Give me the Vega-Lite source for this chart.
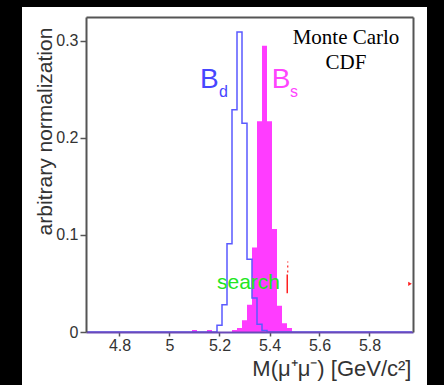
{
  "$schema": "https://vega.github.io/schema/vega-lite/v6.json",
  "width": 327,
  "height": 315,
  "autosize": "none",
  "padding": {"left": 86, "top": 17, "right": 31, "bottom": 53},
  "background": "black",
  "config": {"font": "Liberation Sans", "view": {"stroke": null}},
  "datasets": {
    "hist": [
      {"sample": "Bd", "mass": 4.67, "frac": 0},
      {"sample": "Bd", "mass": 5.16, "frac": 0},
      {"sample": "Bd", "mass": 5.18, "frac": 0},
      {"sample": "Bd", "mass": 5.20, "frac": 0.007},
      {"sample": "Bd", "mass": 5.22, "frac": 0.028},
      {"sample": "Bd", "mass": 5.24, "frac": 0.091},
      {"sample": "Bd", "mass": 5.26, "frac": 0.229},
      {"sample": "Bd", "mass": 5.28, "frac": 0.309},
      {"sample": "Bd", "mass": 5.30, "frac": 0.215},
      {"sample": "Bd", "mass": 5.32, "frac": 0.075},
      {"sample": "Bd", "mass": 5.34, "frac": 0.035},
      {"sample": "Bd", "mass": 5.36, "frac": 0.008},
      {"sample": "Bd", "mass": 5.38, "frac": 0.0015},
      {"sample": "Bd", "mass": 5.40, "frac": 0},
      {"sample": "Bd", "mass": 5.97, "frac": 0},
      {"sample": "Bs", "mass": 4.67, "frac": 0},
      {"sample": "Bs", "mass": 5.08, "frac": 0},
      {"sample": "Bs", "mass": 5.10, "frac": 0.002},
      {"sample": "Bs", "mass": 5.12, "frac": 0},
      {"sample": "Bs", "mass": 5.14, "frac": 0},
      {"sample": "Bs", "mass": 5.16, "frac": 0.002},
      {"sample": "Bs", "mass": 5.18, "frac": 0},
      {"sample": "Bs", "mass": 5.24, "frac": 0},
      {"sample": "Bs", "mass": 5.26, "frac": 0.002},
      {"sample": "Bs", "mass": 5.28, "frac": 0.004},
      {"sample": "Bs", "mass": 5.30, "frac": 0.012},
      {"sample": "Bs", "mass": 5.32, "frac": 0.028},
      {"sample": "Bs", "mass": 5.34, "frac": 0.087},
      {"sample": "Bs", "mass": 5.36, "frac": 0.217},
      {"sample": "Bs", "mass": 5.38, "frac": 0.295},
      {"sample": "Bs", "mass": 5.40, "frac": 0.217},
      {"sample": "Bs", "mass": 5.42, "frac": 0.106},
      {"sample": "Bs", "mass": 5.44, "frac": 0.027},
      {"sample": "Bs", "mass": 5.46, "frac": 0.009},
      {"sample": "Bs", "mass": 5.48, "frac": 0.004},
      {"sample": "Bs", "mass": 5.50, "frac": 0},
      {"sample": "Bs", "mass": 5.97, "frac": 0}
    ],
    "one": [{}]
  },
  "data": {"name": "one"},
  "resolve": {"axis": {"x": "independent", "y": "independent"}},
  "layer": [
    {
      "mark": {"type": "rect", "fill": "white", "strokeWidth": 0, "clip": false},
      "encoding": {
        "x": {"datum": 4.41, "type": "quantitative",
          "scale": {"domain": [4.666, 5.974], "nice": false, "zero": false},
          "axis": {"orient": "bottom", "values": [4.8, 5, 5.2, 5.4, 5.6, 5.8], "format": "~g",
            "grid": false, "zindex": 1, "domainColor": "#6a4ab8", "domainWidth": 2,
            "tickColor": "#555", "tickWidth": 1.5, "tickSize": 4, "labelPadding": 1,
            "labelFontSize": 16, "labelColor": "#333", "labelFlush": false,
            "title": "M(μ⁺μ⁻)   [GeV/c²]", "titleFontSize": 22, "titleFontWeight": "normal",
            "titleColor": "#333", "titleAlign": "right", "titleBaseline": "alphabetic",
            "titleAnchor": null, "titleX": 325, "titleY": 43}},
        "x2": {"datum": 6.03},
        "y": {"datum": 0.3348, "type": "quantitative",
          "scale": {"domain": [0, 0.3245], "nice": false, "zero": false},
          "axis": {"orient": "left", "values": [0, 0.1, 0.2, 0.3], "format": "~g",
            "grid": false, "zindex": 1, "domainColor": "#555", "domainWidth": 2,
            "tickColor": "#555", "tickWidth": 1.5, "tickSize": 6, "labelPadding": 2,
            "labelFontSize": 16, "labelColor": "#333", "labelFlush": false,
            "title": "arbitrary normalization", "titleFontSize": 21, "titleFontWeight": "normal",
            "titleColor": "#333", "titleAngle": -90, "titleAlign": "center",
            "titleBaseline": "alphabetic", "titleAnchor": null, "titleX": -35, "titleY": 114}},
        "y2": {"datum": -0.0546}
      }
    },
    {
      "data": {"name": "hist"},
      "transform": [{"filter": "datum.sample == 'Bs'"}],
      "mark": {"type": "area", "interpolate": "step", "fill": "#ff3cff", "opacity": 1},
      "encoding": {
        "x": {"field": "mass", "type": "quantitative",
          "axis": {"orient": "top", "labels": false, "ticks": false, "grid": false, "title": null,
            "domainColor": "#555", "domainWidth": 2, "zindex": 1}},
        "y": {"field": "frac", "type": "quantitative",
          "axis": {"orient": "right", "labels": false, "ticks": false, "grid": false, "title": null,
            "domainColor": "#555", "domainWidth": 2, "zindex": 1}}
      }
    },
    {
      "data": {"name": "hist"},
      "transform": [{"filter": "datum.sample == 'Bd'"}],
      "mark": {"type": "line", "interpolate": "step", "stroke": "#5a5aff", "strokeWidth": 1.5},
      "encoding": {
        "x": {"field": "mass", "type": "quantitative", "axis": null},
        "y": {"field": "frac", "type": "quantitative", "axis": null}
      }
    },
    {
      "mark": {"type": "text", "text": "B", "fontSize": 28, "fill": "#4646ff", "align": "left", "baseline": "alphabetic"},
      "encoding": {
        "x": {"datum": 5.122, "type": "quantitative", "axis": null},
        "y": {"datum": 0.2509, "type": "quantitative", "axis": null}
      }
    },
    {
      "mark": {"type": "text", "text": "d", "fontSize": 16, "fill": "#4646ff", "align": "left", "baseline": "alphabetic"},
      "encoding": {
        "x": {"datum": 5.198, "type": "quantitative", "axis": null},
        "y": {"datum": 0.2421, "type": "quantitative", "axis": null}
      }
    },
    {
      "mark": {"type": "text", "text": "B", "fontSize": 28, "fill": "#ff44ff", "align": "left", "baseline": "alphabetic"},
      "encoding": {
        "x": {"datum": 5.409, "type": "quantitative", "axis": null},
        "y": {"datum": 0.2509, "type": "quantitative", "axis": null}
      }
    },
    {
      "mark": {"type": "text", "text": "s", "fontSize": 16, "fill": "#ff44ff", "align": "left", "baseline": "alphabetic"},
      "encoding": {
        "x": {"datum": 5.482, "type": "quantitative", "axis": null},
        "y": {"datum": 0.2421, "type": "quantitative", "axis": null}
      }
    },
    {
      "mark": {"type": "text", "text": ["Monte Carlo", "CDF"], "lineHeight": 25, "font": "Liberation Serif", "fontSize": 21, "fill": "black", "align": "center", "baseline": "alphabetic"},
      "encoding": {
        "x": {"datum": 5.706, "type": "quantitative", "axis": null},
        "y": {"datum": 0.2972, "type": "quantitative", "axis": null}
      }
    },
    {
      "mark": {"type": "text", "text": "search", "fontSize": 21, "fill": "#22e622", "align": "left", "baseline": "alphabetic"},
      "encoding": {
        "x": {"datum": 5.19, "type": "quantitative", "axis": null},
        "y": {"datum": 0.0446, "type": "quantitative", "axis": null}
      }
    },
    {
      "mark": {"type": "rule", "stroke": "#ff2020", "strokeWidth": 1.5},
      "encoding": {
        "x": {"datum": 5.471, "type": "quantitative", "axis": null},
        "y": {"datum": 0.040, "type": "quantitative", "axis": null},
        "y2": {"datum": 0.0592}
      }
    },
    {
      "mark": {"type": "rule", "stroke": "#ff2020", "strokeWidth": 1.2, "strokeDash": [2, 3]},
      "encoding": {
        "x": {"datum": 5.473, "type": "quantitative", "axis": null},
        "y": {"datum": 0.0613, "type": "quantitative", "axis": null},
        "y2": {"datum": 0.0726}
      }
    },
    {
      "mark": {"type": "point", "shape": "triangle-right", "filled": true, "size": 18, "fill": "#ff2020", "strokeWidth": 0, "opacity": 1},
      "encoding": {
        "x": {"datum": 5.962, "type": "quantitative", "axis": null},
        "y": {"datum": 0.0497, "type": "quantitative", "axis": null}
      }
    }
  ]
}
